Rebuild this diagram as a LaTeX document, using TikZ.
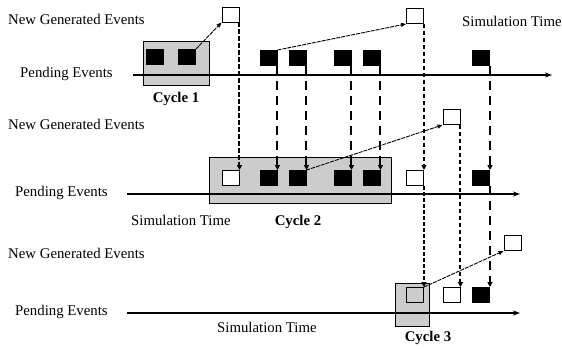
\documentclass[tikz,border=0pt]{standalone}
\usepackage{fontspec}
\setmainfont{Liberation Serif}
\usetikzlibrary{arrows.meta}
\begin{document}
\begin{tikzpicture}[x=1pt,y=-1pt,
  lbl/.style={inner sep=0pt,anchor=west,font=\fontsize{14.8}{16}\selectfont},
  cyc/.style={inner sep=0pt,font=\fontsize{14.8}{16}\selectfont\bfseries},
  ev/.style={rectangle,draw,line width=0.9pt,minimum width=17pt,minimum height=15pt,inner sep=0pt},
  blk/.style={ev,fill=black},
  wht/.style={ev,fill=white},
  hol/.style={ev},
  cycbox/.style={draw,line width=1pt,fill=gray!40},
  axis/.style={line width=1.3pt,-{Stealth[length=7pt,width=5pt]}},
  longd/.style={line width=2pt,dash pattern=on 9pt off 6pt,-{Triangle[length=5pt,width=5pt]}},
  shortd/.style={line width=2pt,dash pattern=on 4.5pt off 2.5pt,-{Triangle[length=5pt,width=5pt]}},
  thind/.style={line width=1.2pt,dash pattern=on 4pt off 2pt,-{Triangle[length=5pt,width=5pt]}},
  gen/.style={line width=0.9pt,dash pattern=on 4pt off 1pt,-{Triangle[length=5pt,width=4pt]}}]
\useasboundingbox (0,0) rectangle (562,348);

% ---------- cycle boxes ----------
\draw[cycbox] (143,41) rectangle (209,85);
\draw[cycbox] (209,157) rectangle (391,203);
\draw[cycbox] (395,283) rectangle (429,326);

% ---------- axes ----------
\coordinate (a1s) at (133,75);  \coordinate (a1e) at (552,75);
\coordinate (a2s) at (127,194); \coordinate (a2e) at (520,194);
\coordinate (a3s) at (127,313); \coordinate (a3e) at (520,313);
\draw[axis] (a1s) -- (a1e);
\draw[axis] (a2s) -- (a2e);
\draw[axis] (a3s) -- (a3e);

% ---------- labels ----------
\node[lbl] (ng1) at (8,19) {New Generated Events};
\node[lbl] (pe1) at (20,74) {Pending Events};
\node[lbl] (st1) at (462,21) {Simulation Time};
\node[cyc] (cy1) at (176,99) {Cycle 1};
\node[lbl] (ng2) at (8,124) {New Generated Events};
\node[lbl] (pe2) at (15,193) {Pending Events};
\node[lbl] (st2) at (131,220) {Simulation Time};
\node[cyc] (cy2) at (298,222) {Cycle 2};
\node[lbl] (ng3) at (8,253) {New Generated Events};
\node[lbl] (pe3) at (15,312) {Pending Events};
\node[lbl] (st3) at (217,327) {Simulation Time};
\node[cyc] (cy3) at (428,338) {Cycle 3};

% ---------- top row ----------
\node[blk] (c1a) at (155,57) {};
\node[blk] (c1b) at (187,57) {};
\node[wht] (w1) at (230.5,14.5) {};
\node[blk] (t1) at (268.5,58) {};
\node[blk] (t2) at (297.5,58) {};
\node[blk] (t3) at (342.5,58) {};
\node[blk] (t4) at (371.5,58) {};
\node[wht] (w2) at (415,16) {};
\node[blk] (t5) at (481,58) {};

% ---------- middle row ----------
\node[wht] (mw1) at (230.5,178) {};
\node[blk] (m1) at (268.5,178) {};
\node[blk] (m2) at (297.5,178) {};
\node[blk] (m3) at (342.5,178) {};
\node[blk] (m4) at (371.5,178) {};
\node[wht] (mw2) at (415,178) {};
\node[blk] (m5) at (481,178) {};
\node[wht] (w3) at (451.5,117) {};

% ---------- bottom row ----------
\node[hol] (bw1) at (415,295) {};
\node[wht] (bw3) at (451.5,295) {};
\node[blk] (b5) at (481,295) {};
\node[wht] (w4) at (512.5,243) {};

% ---------- generated events ----------
\draw[gen] (c1b.north east) -- (w1.south west);
\draw[gen] (t1.north east) -- (w2.south west);
\draw[gen] (m2.north east) -- (w3.south west);
\draw[gen] (bw1.north east) -- (w4.south west);

% ---------- carried events (top to middle) ----------
\draw[shortd] (w1.south east) -- (mw1.north east);
\draw[longd] (t1.south east) -- (m1.north east);
\draw[longd] (t2.south east) -- (m2.north east);
\draw[longd] (t3.south east) -- (m3.north east);
\draw[longd] (t4.south east) -- (m4.north east);
\draw[shortd] (w2.south east) -- (mw2.north east);
\draw[longd] (t5.south east) -- (m5.north east);

% ---------- carried events (middle to bottom) ----------
\draw[thind] (mw2.south east) -- (bw1.north east);
\draw[shortd] (w3.south east) -- (bw3.north east);
\draw[longd] (m5.south east) -- (b5.north east);
\end{tikzpicture}
\end{document}
